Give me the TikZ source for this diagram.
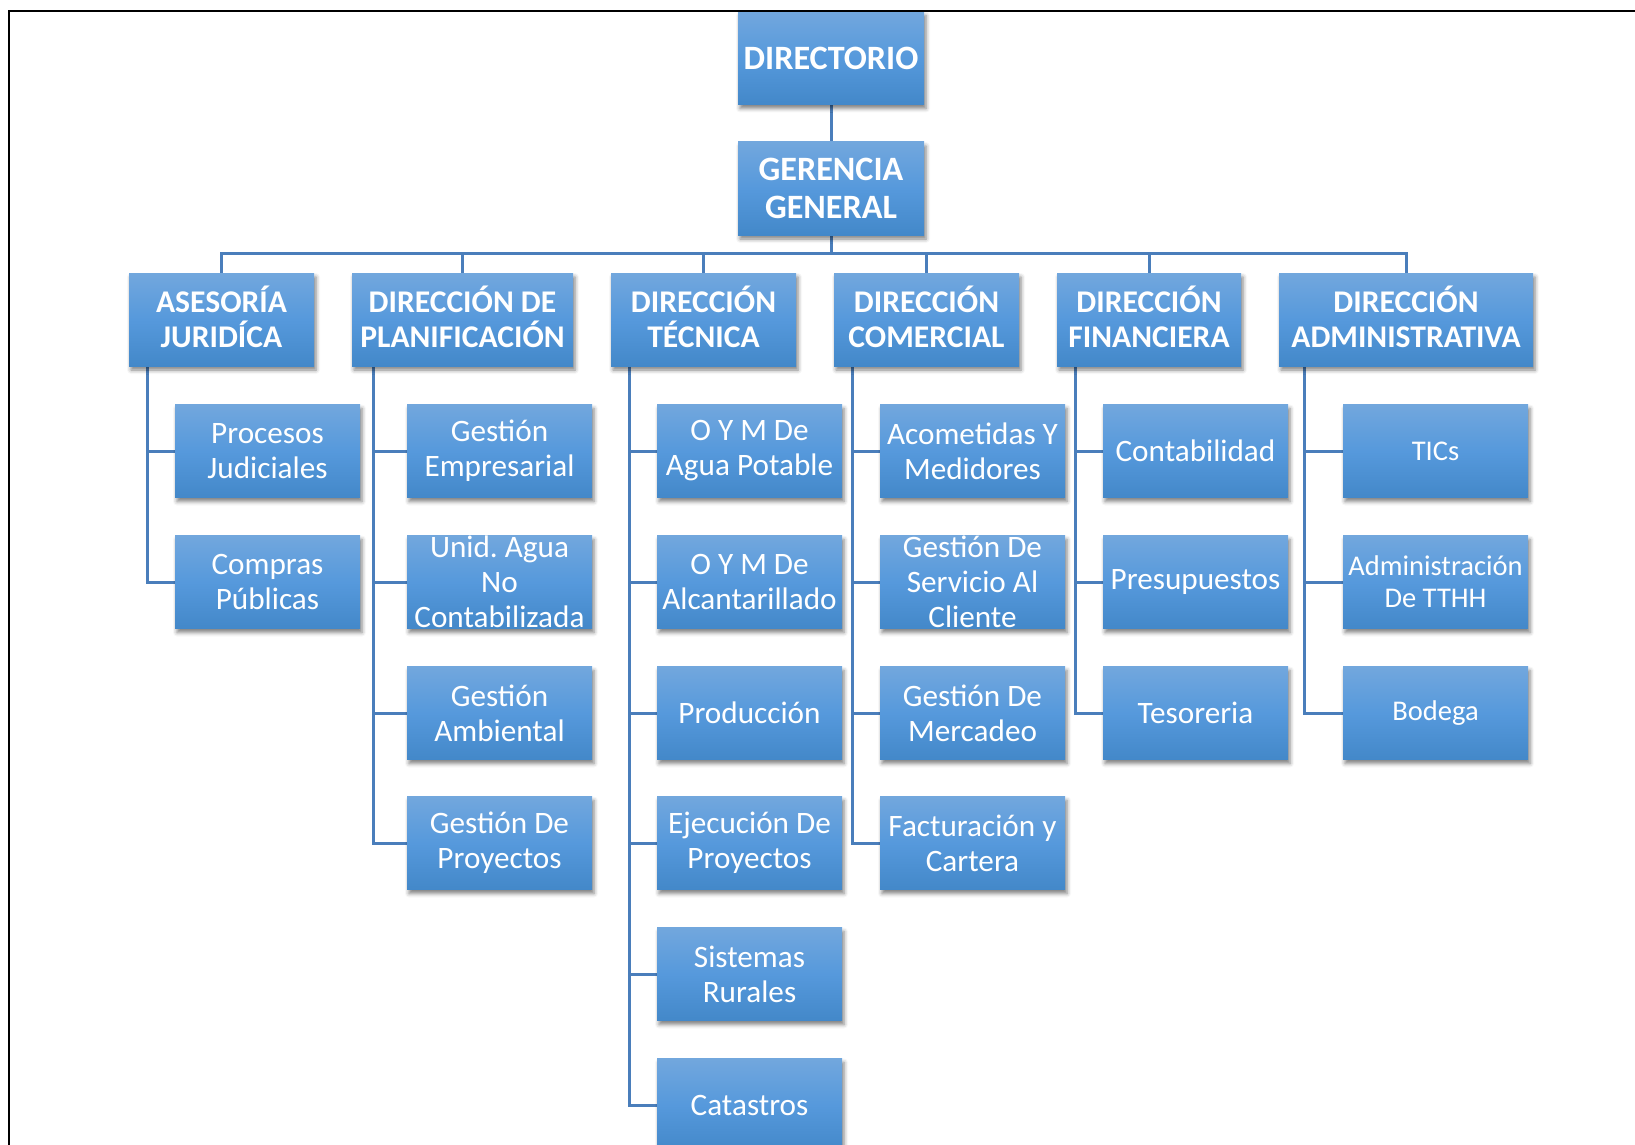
\documentclass[tikz,border=0pt]{standalone}
\usepackage{fontspec}
\setmainfont{Carlito}
\frenchspacing
\usetikzlibrary{calc,backgrounds,shadows.blur}

\definecolor{boxtop}{RGB}{114,167,221}
\definecolor{boxmid}{RGB}{86,153,220}
\definecolor{boxbot}{RGB}{67,136,201}
\definecolor{linkblue}{RGB}{74,126,187}

% one unit = one pixel of the layout grid (0.75pt), y grows downwards
\tikzset{
  unitbox/.style={rectangle, inner sep=0pt, minimum height=69.75pt,
    top color=boxtop, bottom color=boxbot, middle color=boxmid,
    blur shadow={shadow xshift=1.5pt, shadow yshift=-3pt,
      shadow blur radius=3pt, shadow opacity=50}},
  boxtext/.style={align=center, text=white, inner sep=0pt},
  toptext/.style={boxtext, font=\bfseries\fontsize{25.6pt}{28.5pt}\selectfont},
  headtext/.style={boxtext, yshift=2.25pt, font=\bfseries\fontsize{23.7pt}{26.25pt}\selectfont},
  subtext/.style={boxtext, font=\fontsize{23.4pt}{26.25pt}\selectfont},
  admtext/.style={boxtext, font=\fontsize{21.4pt}{24pt}\selectfont},
  link/.style={draw=linkblue, line width=2.25pt},
  frame/.style={draw=black, line width=1.9pt}
}

% #1 name, #2 x centre, #3 y centre, #4 width, #5 text style, #6 text
\newcommand\orgunit[6]{%
  \node[unitbox, minimum width=#4*0.75pt] (#1) at (#2,#3) {};
  \node[#5] at (#1.center) {#6};
}

\begin{document}
\begin{tikzpicture}[x=0.75pt, y=-0.75pt]
\useasboundingbox (0,0) rectangle (1635,1145);

% top of the chart
\orgunit{dir}{831}{58}{186}{toptext}{DIRECTORIO}
\orgunit{ger}{831}{188.5}{186}{toptext}{GERENCIA\\GENERAL}

% departments
\orgunit{ase}{221.5}{319.5}{185}{headtext}{ASESORÍA\\JURIDÍCA}
\orgunit{pla}{462.5}{319.5}{221}{headtext}{DIRECCIÓN DE\\PLANIFICACIÓN}
\orgunit{tec}{703.5}{319.5}{185}{headtext}{DIRECCIÓN\\TÉCNICA}
\orgunit{com}{926.5}{319.5}{185}{headtext}{DIRECCIÓN\\COMERCIAL}
\orgunit{fin}{1149}{319.5}{184}{headtext}{DIRECCIÓN\\FINANCIERA}
\orgunit{adm}{1406}{319.5}{254}{headtext}{DIRECCIÓN\\ADMINISTRATIVA}

% units of Asesoría Jurídica
\orgunit{a1}{267.5}{451}{185}{subtext}{Procesos\\Judiciales}
\orgunit{a2}{267.5}{582}{185}{subtext}{Compras\\Públicas}

% units of Planificación
\orgunit{p1}{499.5}{451}{185}{subtext}{Gestión\\Empresarial}
\orgunit{p2}{499.5}{582}{185}{subtext}{Unid. Agua\\No\\Contabilizada}
\orgunit{p3}{499.5}{713}{185}{subtext}{Gestión\\Ambiental}
\orgunit{p4}{499.5}{843}{185}{subtext}{Gestión De\\Proyectos}

% units of Dirección Técnica
\orgunit{t1}{749.5}{451}{185}{subtext}{O Y M De\\Agua Potable}
\orgunit{t2}{749.5}{582}{185}{subtext}{O Y M De\\Alcantarillado}
\orgunit{t3}{749.5}{713}{185}{subtext}{Producción}
\orgunit{t4}{749.5}{843}{185}{subtext}{Ejecución De\\Proyectos}
\orgunit{t5}{749.5}{974}{185}{subtext}{Sistemas\\Rurales}
\orgunit{t6}{749.5}{1105}{185}{subtext}{Catastros}

% units of Dirección Comercial
\orgunit{c1}{972.5}{451}{185}{subtext}{Acometidas Y\\Medidores}
\orgunit{c2}{972.5}{582}{185}{subtext}{Gestión De\\Servicio Al\\Cliente}
\orgunit{c3}{972.5}{713}{185}{subtext}{Gestión De\\Mercadeo}
\orgunit{c4}{972.5}{843}{185}{subtext}{Facturación y\\Cartera}

% units of Dirección Financiera
\orgunit{f1}{1195.5}{451}{185}{subtext}{Contabilidad}
\orgunit{f2}{1195.5}{582}{185}{subtext}{Presupuestos}
\orgunit{f3}{1195.5}{713}{185}{subtext}{Tesoreria}

% units of Dirección Administrativa
\orgunit{d1}{1435.5}{451}{185}{admtext}{TICs}
\orgunit{d2}{1435.5}{582}{185}{admtext}{Administración\\De TTHH}
\orgunit{d3}{1435.5}{713}{185}{admtext}{Bodega}

% connectors
\begin{scope}[on background layer]
  \coordinate (bus) at (831,253);
  \draw[link] (dir.south) -- (ger.north);
  \draw[link] (ger.south) -- (ger.south |- bus);
  \draw[link] (ase.north) -- (ase.north |- bus) -- (adm.north |- bus) -- (adm.north);
  \foreach \d in {pla,tec,com,fin}
    \draw[link] (\d.north) -- (\d.north |- bus);

  \coordinate (aseS) at ($(ase.south west)+(19,0)$);
  \coordinate (plaS) at ($(pla.south west)+(22,0)$);
  \coordinate (tecS) at ($(tec.south west)+(19,0)$);
  \coordinate (comS) at ($(com.south west)+(19,0)$);
  \coordinate (finS) at ($(fin.south west)+(19,0)$);
  \coordinate (admS) at ($(adm.south west)+(26,0)$);

  \foreach \u in {a1,a2} \draw[link] (aseS) |- (\u.west);
  \foreach \u in {p1,p2,p3,p4} \draw[link] (plaS) |- (\u.west);
  \foreach \u in {t1,t2,t3,t4,t5,t6} \draw[link] (tecS) |- (\u.west);
  \foreach \u in {c1,c2,c3,c4} \draw[link] (comS) |- (\u.west);
  \foreach \u in {f1,f2,f3} \draw[link] (finS) |- (\u.west);
  \foreach \u in {d1,d2,d3} \draw[link] (admS) |- (\u.west);
\end{scope}

% page frame (top and left edges)
\coordinate (frameR) at (1635,11);
\coordinate (frameC) at (9,11);
\coordinate (frameB) at (9,1145);
\draw[frame] (frameR) -- (frameC) -- (frameB);
\end{tikzpicture}
\end{document}
